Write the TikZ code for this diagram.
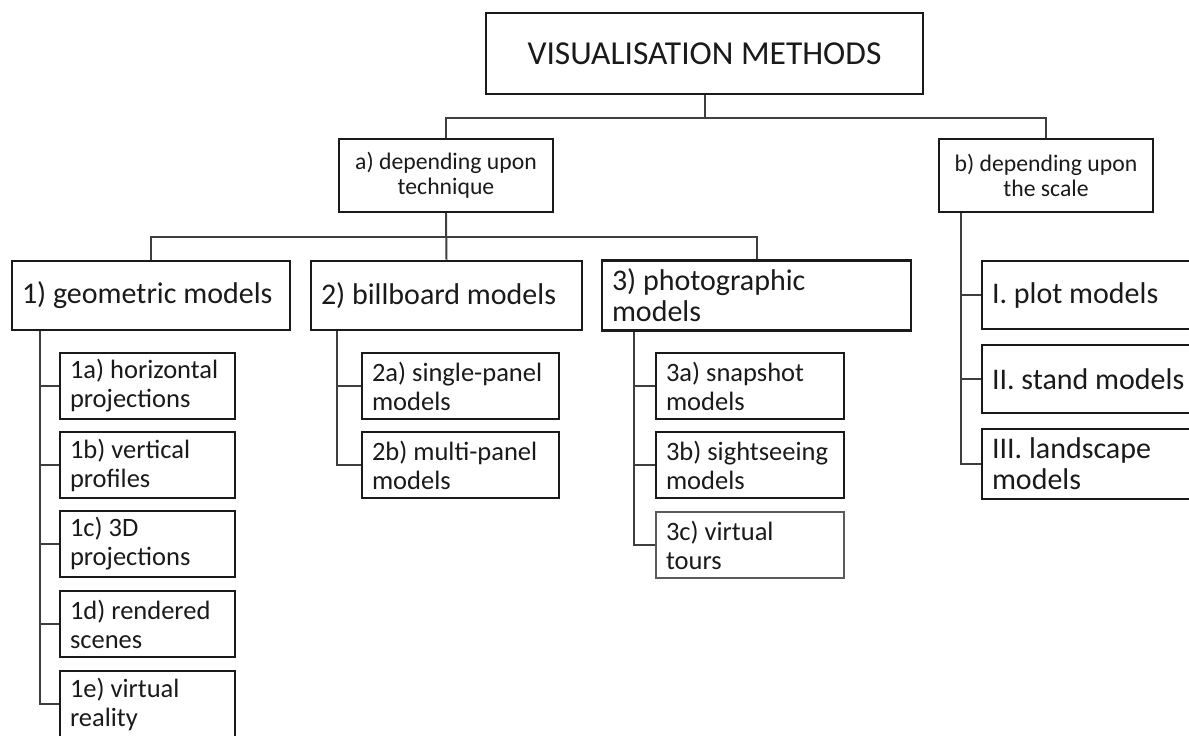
\documentclass[tikz,border=0pt]{standalone}
\usepackage{fontspec}
\setmainfont{Carlito}
\usepackage{tikz}
\usetikzlibrary{positioning}
\definecolor{boxline}{HTML}{1A1A1A}
\definecolor{wire}{HTML}{3E3E3E}
\definecolor{ink}{HTML}{1A1A1A}
\tikzstyle{box}=[rectangle, draw=boxline, line width=2.8pt, text=ink, inner xsep=10pt, inner ysep=0pt, align=flush left]
\tikzstyle{topbox}=[box, font=\fontsize{30}{31}\selectfont, minimum height=69pt]
\tikzstyle{subbox}=[box, font=\fontsize{26.5}{29}\selectfont, minimum height=66pt, text width=155pt]
\tikzstyle{link}=[draw=wire, line width=2pt]
\frenchspacing

\begin{document}
\begin{tikzpicture}[x=1pt, y=-1pt]
        \useasboundingbox (0,0) rectangle (1189,736);
        \clip (0,0) rectangle (1189,736);

        % Root
        \node at (704.5, 53.5) [box, align=center, minimum width=437pt, minimum height=81pt,
          font=\fontsize{33.5}{35}\selectfont] (title) {VISUALISATION METHODS};

        % Criteria
        \node at (446, 175.5) [box, align=center, minimum width=214pt, minimum height=73pt,
          font=\fontsize{23.7}{25}\selectfont] (tecA) {a) depending upon\\technique};
        \node at (1046, 175.5) [box, align=center, minimum width=214pt, minimum height=73pt,
          font=\fontsize{23.7}{25}\selectfont] (scaleB) {b) depending upon\\the scale};

        % Techniques
        \node at (151, 295.5) [topbox, text width=258pt] (geo) {1) geometric models};
        \node at (446.5, 295.5) [topbox, text width=251pt] (bill) {2) billboard models};
        \node at (756.5, 295.5) [topbox, text width=289pt, minimum height=70pt] (photo) {3) photographic\\models};

        % Scales
        \node at (1091, 295) [topbox, text width=198pt, minimum height=68pt] (plot) {I. plot models};
        \node at (1091, 379) [topbox, text width=198pt, minimum height=68pt] (stand) {II. stand models};
        \node at (1091, 464) [topbox, text width=198pt, minimum height=70pt] (land) {III. landscape\\models};

        % Sub-types
        \foreach \s/\y/\t in {a/386/{1a) horizontal\\projections}, b/465/{1b) vertical\\profiles},
            c/544/{1c) 3D\\projections}, d/624/{1d) rendered\\scenes}, e/704/{1e) virtual\\reality}}
          \node at (147.5, \y) [subbox] (geo_\s) {\t};

        \foreach \s/\y/\t in {a/386/{2a) single-panel\\models}, b/465/{2b) multi-panel\\models}}
          \node at (460.5, \y) [subbox, text width=177pt] (bill_\s) {\t};

        \foreach \s/\y/\t in {a/386/{3a) snapshot\\models}, b/465/{3b) sightseeing\\models}}
          \node at (750, \y) [subbox, text width=168pt] (photo_\s) {\t};
        \node at (750, 545) [subbox, text width=168pt, draw=wire!85, line width=1.6pt] (photo_c) {3c) virtual\\tours};

        % Links
        \draw [link] (title.south) -- ++(0,23) -| (tecA.north);
        \draw [link] (title.south) -- ++(0,23) -| (scaleB.north);

        \draw [link] (tecA.south) -- ++(0,24) -| (geo.north);
        \draw [link] (tecA.south) -- (bill.north);
        \draw [link] (tecA.south) -- ++(0,24) -| (photo.north);

        \foreach \s in {a,...,e}
          \draw [link] ([xshift=29pt]geo.south west) |- (geo_\s.west);
        \foreach \s in {a,b}
          \draw [link] ([xshift=27pt]bill.south west) |- (bill_\s.west);
        \foreach \s in {a,b,c}
          \draw [link] ([xshift=33pt]photo.south west) |- (photo_\s.west);
        \foreach \s in {plot,stand,land}
          \draw [link] ([xshift=23pt]scaleB.south west) |- (\s.west);
      \end{tikzpicture}
\end{document}
